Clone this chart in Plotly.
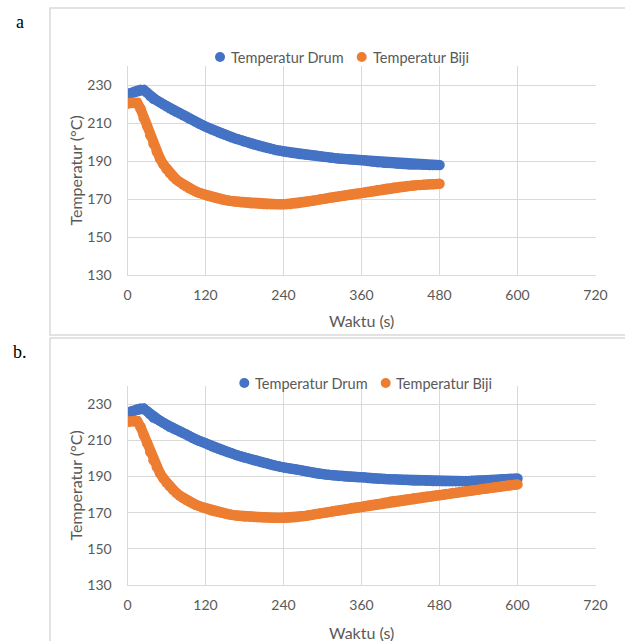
import plotly.graph_objects as go

W, H = 625, 641

# ---------------- data ----------------
time_a = list(range(0, 481, 5))
drum_a = [225.2, 225.8, 226.4, 227.0, 227.5, 227.4, 226.0, 224.2, 222.8, 221.9,
          220.9, 219.9, 218.8, 217.7, 216.8, 215.9, 215.1, 214.2, 213.4, 212.4,
          211.5, 210.6, 209.7, 208.9, 208.1, 207.4, 206.6, 205.9, 205.1, 204.5,
          203.8, 203.1, 202.5, 201.9, 201.4, 200.9, 200.3, 199.8, 199.2, 198.7,
          198.2, 197.7, 197.3, 196.9, 196.5, 196.1, 195.7, 195.4, 195.0, 194.8,
          194.5, 194.2, 194.0, 193.7, 193.5, 193.3, 193.1, 192.9, 192.7, 192.5,
          192.3, 192.1, 191.9, 191.7, 191.5, 191.3, 191.2, 191.0, 190.9, 190.8,
          190.7, 190.5, 190.4, 190.2, 190.0, 189.8, 189.6, 189.4, 189.3, 189.1,
          189.0, 188.9, 188.8, 188.6, 188.5, 188.4, 188.3, 188.2, 188.2, 188.1,
          188.1, 188.0, 188.0, 187.9, 187.9, 187.9, 187.9]
biji_a = [220.3, 220.6, 220.8, 220.6, 217.5, 212.5, 208.5, 203.5, 199.0, 195.0,
          191.3, 188.3, 185.8, 183.6, 181.8, 180.3, 179.0, 177.7, 176.7, 175.7,
          174.8, 174.0, 173.3, 172.7, 172.1, 171.6, 171.1, 170.6, 170.2, 169.8,
          169.5, 169.2, 168.9, 168.7, 168.5, 168.3, 168.1, 168.0, 167.8, 167.7,
          167.6, 167.5, 167.4, 167.3, 167.3, 167.2, 167.2, 167.2, 167.2, 167.3,
          167.4, 167.6, 167.8, 168.0, 168.3, 168.5, 168.8, 169.1, 169.4, 169.7,
          170.0, 170.3, 170.6, 170.9, 171.2, 171.5, 171.7, 172.0, 172.3, 172.5,
          172.7, 173.0, 173.2, 173.5, 173.8, 174.1, 174.4, 174.7, 174.9, 175.2,
          175.5, 175.7, 176.0, 176.2, 176.4, 176.6, 176.8, 177.0, 177.1, 177.3,
          177.4, 177.5, 177.6, 177.7, 177.8, 177.9, 178.0]

time_b = list(range(0, 601, 5))
drum_b = [225.4, 225.9, 226.5, 227.1, 227.6, 227.5, 226.1, 224.3, 222.6, 221.7,
          220.8, 219.7, 218.6, 217.5, 216.6, 215.8, 215.0, 214.1, 213.3, 212.3,
          211.4, 210.5, 209.7, 209.0, 208.3, 207.5, 206.7, 206.0, 205.3, 204.6,
          204.0, 203.4, 202.8, 202.2, 201.6, 201.0, 200.5, 200.0, 199.5, 199.0,
          198.5, 198.0, 197.5, 197.1, 196.6, 196.2, 195.8, 195.4, 195.0, 194.7,
          194.4, 194.1, 193.8, 193.5, 193.1, 192.8, 192.4, 192.1, 191.8, 191.5,
          191.3, 191.1, 190.9, 190.7, 190.5, 190.3, 190.2, 190.0, 189.9, 189.8,
          189.7, 189.6, 189.5, 189.4, 189.2, 189.0, 188.9, 188.8, 188.7, 188.6,
          188.5, 188.4, 188.4, 188.3, 188.2, 188.1, 188.0, 187.9, 187.8, 187.8,
          187.7, 187.7, 187.6, 187.6, 187.5, 187.5, 187.5, 187.4, 187.4, 187.4,
          187.4, 187.4, 187.4, 187.4, 187.5, 187.5, 187.6, 187.6, 187.7, 187.8,
          187.8, 187.9, 188.0, 188.1, 188.2, 188.3, 188.5, 188.6, 188.7, 188.8,
          188.9]
biji_b = [220.2, 220.5, 220.7, 220.5, 217.5, 212.8, 208.5, 203.5, 199.0, 195.2,
          191.8, 189.0, 186.6, 184.5, 182.6, 181.0, 179.5, 178.2, 177.1, 176.1,
          175.2, 174.4, 173.6, 173.0, 172.4, 171.8, 171.2, 170.7, 170.3, 169.9,
          169.5, 169.1, 168.8, 168.5, 168.3, 168.1, 167.9, 167.8, 167.7, 167.6,
          167.5, 167.4, 167.3, 167.3, 167.2, 167.2, 167.2, 167.2, 167.2, 167.2,
          167.3, 167.4, 167.6, 167.8, 168.0, 168.3, 168.6, 168.9, 169.2, 169.5,
          169.8, 170.1, 170.4, 170.7, 171.0, 171.3, 171.6, 171.9, 172.2, 172.5,
          172.8, 173.0, 173.3, 173.6, 173.9, 174.2, 174.5, 174.8, 175.1, 175.5,
          175.8, 176.1, 176.4, 176.6, 176.9, 177.1, 177.4, 177.6, 177.9, 178.1,
          178.4, 178.6, 178.9, 179.1, 179.4, 179.6, 179.8, 180.0, 180.3, 180.5,
          180.8, 181.0, 181.3, 181.5, 181.8, 182.0, 182.2, 182.5, 182.7, 183.0,
          183.2, 183.5, 183.7, 184.0, 184.2, 184.5, 184.7, 185.0, 185.2, 185.4,
          185.6]

x_ticks = [0, 120, 240, 360, 480, 600, 720]
y_ticks = [130, 150, 170, 190, 210, 230]
series_names = ["Temperatur Drum", "Temperatur Biji"]
series_colors = ["#4472C4", "#ED7D31"]
x_title = "Waktu (s)"
y_title = "Temperatur (°C)"
panel_labels = ["a", "b."]

# ---------------- layout helpers ----------------
def px(x):
    return x / W

def py(y):
    return 1 - y / H

FONT = "Lato"
TXT = "#595959"
GRID = "#d9d9d9"

panels = [
    dict(t=time_a, ys=[drum_a, biji_a], top=66, bottom=275, xt=320, leg_y=57,
         leg=[(220, 228.5), (361.7, 370.5)], frame=(50, 8, 627, 335),
         label=(14, 22)),
    dict(t=time_b, ys=[drum_b, biji_b], top=386, bottom=585, xt=632, leg_y=383,
         leg=[(244.3, 253), (385.7, 394)], frame=(50, 338, 627, 650),
         label=(11, 352)),
]

fig = go.Figure()
shapes = []
annotations = []
layout_axes = {}

for i, p in enumerate(panels):
    sfx = "" if i == 0 else str(i + 1)
    xa, ya = "x" + sfx, "y" + sfx
    for name, color, vals in zip(series_names, series_colors, p["ys"]):
        fig.add_trace(go.Scatter(
            x=p["t"], y=vals, name=name, xaxis=xa, yaxis=ya,
            mode="lines+markers",
            line=dict(color=color, width=10),
            marker=dict(color=color, size=10.5, line=dict(width=0)),
            showlegend=False, hoverinfo="skip"))

    layout_axes["xaxis" + sfx] = dict(
        domain=[px(127.5), px(595.5)], anchor=ya, range=[0, 720],
        tickvals=x_ticks, showgrid=True, gridcolor=GRID, gridwidth=1,
        showline=True, linecolor=GRID, linewidth=1, zeroline=False, ticks="",
        tickfont=dict(family=FONT, size=14, color=TXT), ticklabelstandoff=7,
        automargin=False, fixedrange=True)
    layout_axes["yaxis" + sfx] = dict(
        domain=[py(p["bottom"]), py(p["top"])], anchor=xa, range=[130, 240],
        tickvals=y_ticks, showgrid=True, gridcolor=GRID, gridwidth=1,
        showline=True, linecolor=GRID, linewidth=1, zeroline=False, ticks="",
        tickfont=dict(family=FONT, size=14, color=TXT), ticklabelstandoff=12,
        automargin=False, fixedrange=True)

    # frame around each panel
    fx0, fy0, fx1, fy1 = p["frame"]
    shapes.append(dict(type="rect", xref="paper", yref="paper",
                       x0=px(fx0), x1=px(fx1), y0=py(fy1), y1=py(fy0),
                       line=dict(color=GRID, width=1.5), layer="below"))

    # legend (symbol + text)
    for (cx, tx), name, color in zip(p["leg"], series_names, series_colors):
        r = 5
        shapes.append(dict(type="circle", xref="paper", yref="paper",
                           x0=px(cx - r), x1=px(cx + r),
                           y0=py(p["leg_y"] + r), y1=py(p["leg_y"] - r),
                           fillcolor=color, line=dict(width=0)))
        annotations.append(dict(text=name, xref="paper", yref="paper",
                                x=px(tx), y=py(p["leg_y"]), xanchor="left",
                                yanchor="middle", showarrow=False,
                                font=dict(family=FONT, size=14.5, color=TXT)))

    # axis titles
    annotations.append(dict(text=x_title, xref="paper", yref="paper",
                            x=px(361.5), y=py(p["xt"]), xanchor="center",
                            yanchor="middle", showarrow=False,
                            font=dict(family=FONT, size=16, color=TXT)))
    annotations.append(dict(text=y_title, xref="paper", yref="paper",
                            x=px(75), y=py((p["top"] + p["bottom"]) / 2),
                            xanchor="center", yanchor="middle", textangle=-90,
                            showarrow=False,
                            font=dict(family=FONT, size=16, color=TXT)))
    # panel label
    lx, ly = p["label"]
    annotations.append(dict(text=panel_labels[i], xref="paper", yref="paper",
                            x=px(lx), y=py(ly), xanchor="left",
                            yanchor="middle", showarrow=False,
                            font=dict(family="Liberation Serif", size=18,
                                      color="#000000")))

fig.update_layout(
    width=W, height=H, autosize=False,
    margin=dict(l=0, r=0, t=0, b=0, pad=0, autoexpand=False),
    paper_bgcolor="white", plot_bgcolor="white",
    shapes=shapes, annotations=annotations, showlegend=False,
    **layout_axes)

fig.write_html("out.html", config={"displayModeBar": False, "responsive": False})
